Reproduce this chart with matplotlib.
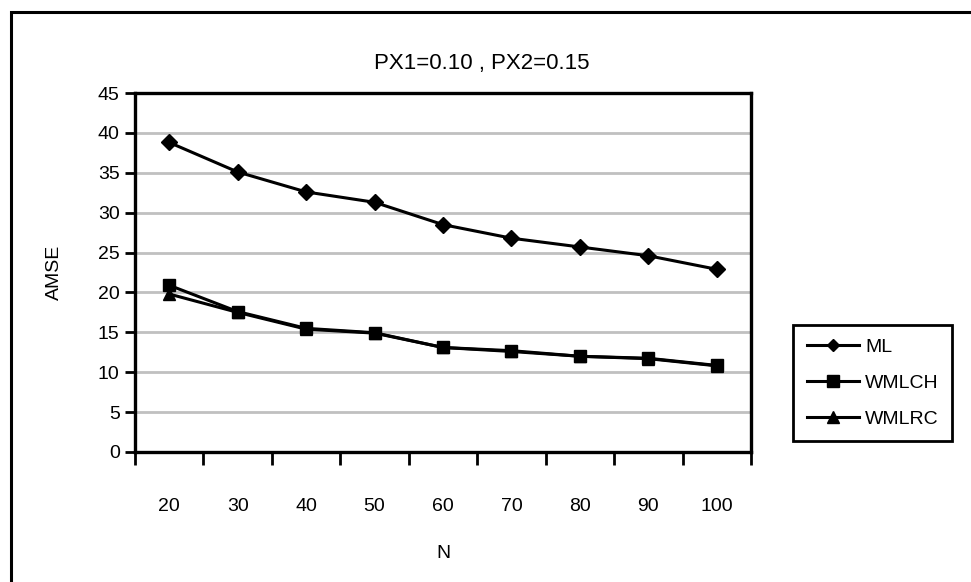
import matplotlib
matplotlib.use("Agg")
import matplotlib.pyplot as plt
from matplotlib.patches import Rectangle
from matplotlib.lines import Line2D

plt.rcParams['font.family'] = ['Liberation Sans', 'DejaVu Sans']

# Sample sizes and AMSE per estimator
n_values = [20, 30, 40, 50, 60, 70, 80, 90, 100]
ml = [38.8, 35.1, 32.6, 31.3, 28.5, 26.8, 25.7, 24.6, 22.9]
wmlch = [20.9, 17.6, 15.5, 14.95, 13.1, 12.7, 12.0, 11.75, 10.85]
wmlrc = [19.8, 17.5, 15.4, 14.9, 13.1, 12.6, 12.0, 11.7, 10.8]
series_names = ["ML", "WMLCH", "WMLRC"]
title = "PX1=0.10 , PX2=0.15"

W, H = 971, 582
fig = plt.figure(figsize=(W / 100, H / 100), dpi=100)
fig.patch.set_facecolor("white")

FS = 14

# Outer chart frame (runs off the right and bottom edges)
fig.add_artist(Rectangle((11 / W, 1 - 700 / H), 1100 / W, (700 - 12) / H,
                         transform=fig.transFigure, fill=False,
                         edgecolor="black", linewidth=2.2))

left, right, top, bottom = 135, 751, 93, 452
ax = fig.add_axes([left / W, 1 - bottom / H, (right - left) / W, (bottom - top) / H])

pos = list(range(len(n_values)))
ax.set_xlim(-0.5, len(n_values) - 0.5)
ax.set_ylim(0, 45)

for y in range(5, 45, 5):
    ax.axhline(y, color="#c0c0c0", linewidth=2.0, zorder=1)

lw = 2.2
ax.plot(pos, ml, color="black", linewidth=lw, marker="D", markersize=7.8, zorder=3)
ax.plot(pos, wmlch, color="black", linewidth=lw, marker="s", markersize=8.8, zorder=3)
ax.plot(pos, wmlrc, color="black", linewidth=lw, marker="^", markersize=8, zorder=2)

ax.set_yticks(range(0, 50, 5))
ax.set_yticklabels([str(v) for v in range(0, 50, 5)], fontsize=FS)
ax.tick_params(axis="y", direction="out", length=7, width=2, pad=4)

# Category ticks sit between the categories; labels sit at the centres
ax.set_xticks([p - 0.5 for p in pos] + [len(n_values) - 0.5])
ax.set_xticklabels([])
ax.tick_params(axis="x", direction="out", length=9, width=2)
for p, n in zip(pos, n_values):
    ax.text(p, -6.8, str(n), ha="center", va="center", fontsize=FS,
            transform=ax.transData, clip_on=False)

for s in ax.spines.values():
    s.set_linewidth(2.4)
    s.set_color("black")

fig.text(482 / W, 1 - 63 / H, title, ha="center", va="center", fontsize=16)
fig.text(443 / W, 1 - 553 / H, "N", ha="center", va="center", fontsize=FS)
fig.text(54 / W, 1 - 272 / H, "AMSE", ha="center", va="center", fontsize=FS,
         rotation=90)

handles = [
    Line2D([], [], color="black", linewidth=lw, marker="D", markersize=6.5),
    Line2D([], [], color="black", linewidth=lw, marker="s", markersize=8),
    Line2D([], [], color="black", linewidth=lw, marker="^", markersize=8),
]
leg = fig.legend(handles, series_names, loc="upper left",
                 bbox_to_anchor=(793 / W, 1 - 325 / H), fontsize=FS,
                 frameon=True, fancybox=False, framealpha=1, edgecolor="black",
                 handlelength=2.7, handletextpad=0.3, labelspacing=0.93,
                 borderpad=0.7, borderaxespad=0)
leg.get_frame().set_linewidth(2.0)

fig.savefig("out.png", dpi=100, facecolor="white")
